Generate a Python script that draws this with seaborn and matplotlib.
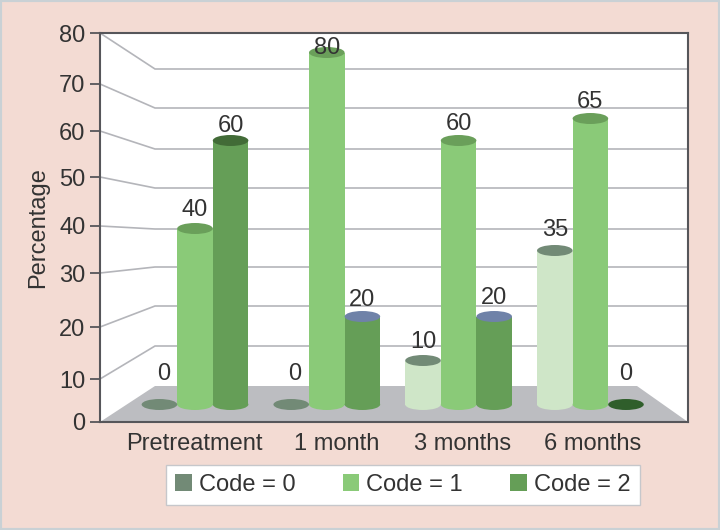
import matplotlib
matplotlib.use("Agg")
import matplotlib.pyplot as plt
from matplotlib.patches import Ellipse, Polygon, Patch, Rectangle
from matplotlib.transforms import ScaledTranslation
import pandas as pd
import seaborn as sns

# --- data -----------------------------------------------------------------
times = ["Pretreatment", "1 month", "3 months", "6 months"]
code_0 = [0, 0, 10, 35]
code_1 = [40, 80, 60, 65]
code_2 = [60, 20, 20, 0]
codes = ["Code = 0", "Code = 1", "Code = 2"]
tick_labels = ["0", "10", "20", "30", "40", "50", "60", "70", "80"]

# --- pseudo-3D layout (pixels) ----------------------------------------------
FIG_W, FIG_H = 720, 530
AX_L, AX_R, AX_T, AX_B = 100, 688, 33, 422
GROUP0_PX, GROUP_STEP = 195, 131.8
BASE_PX, UNIT_PX = 404.5, 4.4
BAR_W = 0.27
ELL_PX = 11
front_px = [422, 379, 327, 273, 226, 177, 131, 84, 33]
back_px = [386, 346, 306, 267, 229, 188, 149, 108, 69]
WALL_X, FLOOR_R = 155, 637

body_colors = ["#cfe6c8", "#8aca78", "#659e57"]
legend_colors = ["#728a76", "#8aca78", "#659e57"]
top_colors = [
    ["#728a76", "#728a76", "#728a76", "#728a76"],
    ["#6a9f5a", "#6a9f5a", "#6a9f5a", "#6a9f5a"],
    ["#426b37", "#6f82a8", "#6f82a8", "#2f5e2b"],
]
label_lift_px = [
    [30, 30, 18, 21],
    [19, 5, 17, 17],
    [15, 17, 18, 30],
]
label_shift_px = [
    [4, 3, 0, 0],
    [0, 0, 0, 0],
    [0, 0, 0, 0],
]
xtick_shift_px = [-1, 10, 4, 2]
BG = "#f3dbd3"
INK = "#333333"
GRID = "#b4b5ba"
SPINE = "#56565a"
FS = 17

sns.set_theme(style="white")
plt.rcParams["font.family"] = ["Liberation Sans", "DejaVu Sans"]
plt.rcParams["font.size"] = FS


def xd(px):
    return (px - GROUP0_PX) / GROUP_STEP


def yd(px):
    return (BASE_PX - px) / UNIT_PX


df = pd.DataFrame({
    "Time": times * 3,
    "Code": [c for c in codes for _ in times],
    "Percentage": code_0 + code_1 + code_2,
})

fig = plt.figure(figsize=(FIG_W / 100, FIG_H / 100), dpi=100, facecolor=BG)
fig.add_artist(Rectangle((0, 0), 1, 1, transform=fig.transFigure, fill=False,
                         edgecolor="#c9d1d5", linewidth=3))
ax = fig.add_axes([AX_L / FIG_W, 1 - AX_B / FIG_H,
                   (AX_R - AX_L) / FIG_W, (AX_B - AX_T) / FIG_H])
ax.set_facecolor("white")

sns.barplot(data=df, x="Time", y="Percentage", hue="Code", order=times,
            hue_order=codes, palette=body_colors, width=3 * BAR_W, gap=0,
            saturation=1, linewidth=0, legend=False, ax=ax, zorder=3)

ax.set_xlim(xd(AX_L), xd(AX_R))
ax.set_ylim(yd(AX_B), yd(AX_T))

# floor and wall lines
ax.add_patch(Polygon([(xd(AX_L), yd(AX_B)), (xd(WALL_X), yd(back_px[0])),
                      (xd(FLOOR_R), yd(back_px[0])), (xd(AX_R), yd(AX_B))],
                     closed=True, facecolor="#bcbdc1", edgecolor="none", zorder=1))
for f, b in list(zip(front_px, back_px))[1:]:
    ax.plot([xd(AX_L), xd(WALL_X), xd(AX_R)], [yd(f), yd(b), yd(b)],
            color=GRID, lw=1.2, zorder=2, solid_joinstyle="miter")

# cylinder caps, bases and value labels on the bars seaborn drew
ell_h = ELL_PX / UNIT_PX
for i, container in enumerate(ax.containers):
    for j, bar in enumerate(container):
        cx = bar.get_x() + bar.get_width() / 2
        v = bar.get_height()
        if v > 0:
            ax.add_patch(Ellipse((cx, 0), bar.get_width(), ell_h,
                                 facecolor=body_colors[i], edgecolor="none", zorder=3))
        ax.add_patch(Ellipse((cx, v), bar.get_width(), ell_h,
                             facecolor=top_colors[i][j], edgecolor="none", zorder=4))
        ax.annotate(str(int(v)), (cx, v),
                    xytext=(label_shift_px[i][j] * 0.72, label_lift_px[i][j] * 0.72),
                    textcoords="offset points", ha="center", va="center",
                    fontsize=FS, color=INK, zorder=6)

# axes
ax.set_yticks([yd(p) for p in front_px], labels=tick_labels)
ax.tick_params(axis="y", length=7.5, width=1.3, color=SPINE, pad=3,
               labelsize=FS, labelcolor=INK, left=True)
ax.tick_params(axis="x", length=0, pad=8, labelsize=FS, labelcolor=INK)
for lab, dx in zip(ax.get_xticklabels(), xtick_shift_px):
    lab.set_transform(lab.get_transform() + ScaledTranslation(dx / 100, 0, fig.dpi_scale_trans))
ax.set_xlabel("")
ax.set_ylabel("Percentage", fontsize=FS, color=INK)
ax.yaxis.set_label_coords(49 / FIG_W, 1 - 228 / FIG_H, transform=fig.transFigure)
for s in ax.spines.values():
    s.set_visible(True)
    s.set_color(SPINE)
    s.set_linewidth(1.5)
    s.set_zorder(7)

# legend
handles = [Patch(facecolor=c, edgecolor="none", label=l)
           for c, l in zip(legend_colors, codes)]
fig.legend(handles=handles, loc="center", ncol=3,
           bbox_to_anchor=(403 / FIG_W, 1 - 485 / FIG_H), frameon=True,
           fancybox=False, framealpha=1, facecolor="white", edgecolor="#c6c7cb",
           fontsize=FS, labelcolor=INK, handlelength=0.7, handleheight=0.7,
           handletextpad=0.3, columnspacing=2.0, borderpad=0.4, borderaxespad=0)

fig.savefig("out.png", dpi=100, facecolor=BG)
